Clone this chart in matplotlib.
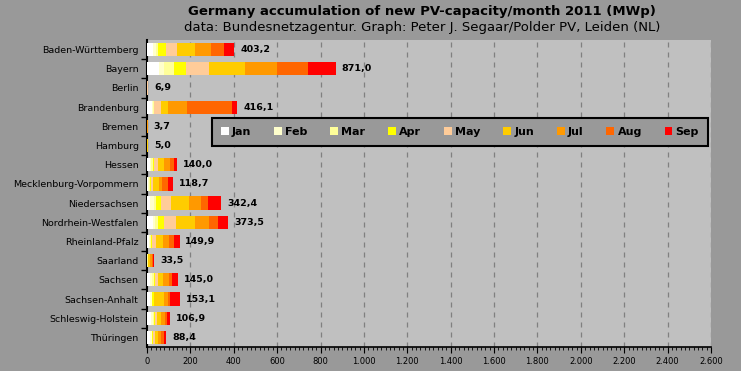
#!/usr/bin/env python3
"""
Germany new PV capacity per month 2011, stacked by Bundesland
"""

import numpy as np
import matplotlib.pyplot as plt
from matplotlib.ticker import MultipleLocator, FuncFormatter, FixedLocator
from matplotlib.patches import Patch

states = ['Baden-Württemberg', 'Bayern', 'Berlin', 'Brandenburg', 'Bremen',
          'Hamburg', 'Hessen', 'Mecklenburg-Vorpommern', 'Niedersachsen',
          'Nordrhein-Westfalen', 'Rheinland-Pfalz', 'Saarland', 'Sachsen',
          'Sachsen-Anhalt', 'Schleswig-Holstein', 'Thüringen']

months = ['Jan', 'Feb', 'Mar', 'Apr', 'May', 'Jun', 'Jul', 'Aug', 'Sep']

# MWp per month
jan = [27, 57, 0.5, 22, 0.3, 0.5, 12.5, 3, 15.5, 26, 10, 1, 16, 15, 20, 16]
feb = [14, 23, 0.3, 5, 0.2, 0.3, 8, 6, 15.5, 12.5, 5, 1, 8, 7, 6, 5]
mar = [12, 43, 0.5, 4, 0.3, 0.4, 5, 5, 12, 14, 4, 1, 7, 3, 5, 4]
apr = [33, 58, 0.6, 2, 0.3, 0.5, 6, 4, 23, 28, 6, 1, 5, 6, 5, 4]
may = [52, 106, 0.8, 32, 0.4, 0.6, 20, 8, 46.5, 51, 17, 2, 15, 3, 10, 8]
jun = [84, 166, 1.2, 30, 0.6, 0.8, 28.5, 28, 79, 88, 32, 9, 21, 43, 19, 16]
jul = [75, 148, 1.0, 88, 0.6, 0.7, 25, 15, 56, 65, 28, 8, 29, 18, 16, 12]
aug = [56, 143, 1.0, 208, 0.6, 0.6, 19, 28, 32.5, 42, 23, 6, 15, 13, 13, 12]
sep = [50.2, 127.5, 1.0, 25.1, 0.6, 0.6, 16, 21.7, 62.4, 47, 24.9, 4.5, 29, 45.1, 12.9, 11.4]

totals = [403.2, 871.0, 6.9, 416.1, 3.7, 5.0, 140.0, 118.7, 342.4, 373.5,
          149.9, 33.5, 145.0, 153.1, 106.9, 88.4]

colors = ['#FFFFFF', '#FFFFCC', '#FFFF99', '#FFFF00', '#FFCC99',
          '#FFCC00', '#FF9900', '#FF6600', '#FF0000']

BG = '#999999'
PLOT_BG = '#C0C0C0'


def fmt_thousands(x, pos):
    return f'{int(x):,}'.replace(',', '.')


fig = plt.figure(figsize=(7.41, 3.71), dpi=100, facecolor=BG)
ax = fig.add_axes([147 / 741, 1 - 347 / 371, 564 / 741, 307 / 371])
ax.set_facecolor(PLOT_BG)

y = np.arange(len(states))
left = np.zeros(len(states))
series = [jan, feb, mar, apr, may, jun, jul, aug, sep]
for vals, col in zip(series, colors):
    vals = np.array(vals)
    ax.barh(y, vals, left=left, height=0.69, color=col, edgecolor='none', zorder=3)
    left += vals

for yi, tot in zip(y, totals):
    ax.text(tot + 27, yi, f'{tot:.1f}'.replace('.', ','), va='center', ha='left',
            fontsize=6.8, fontweight='bold', color='black', zorder=4)

ax.set_xlim(0, 2600)
ax.set_ylim(len(states) - 0.5, -0.5)

ax.xaxis.set_major_locator(MultipleLocator(200))
ax.xaxis.set_minor_locator(MultipleLocator(20))
ax.xaxis.set_major_formatter(FuncFormatter(fmt_thousands))
ax.tick_params(axis='x', which='major', length=4, labelsize=6, pad=3)
ax.tick_params(axis='x', which='minor', length=2)
ax.grid(axis='x', which='major', color='#808080', linestyle=(0, (4, 4)),
        linewidth=0.9, zorder=1)

# category labels centered, ticks at category boundaries
ax.set_yticks(y)
ax.set_yticklabels(states, fontsize=6.8)
ax.tick_params(axis='y', which='major', length=0, pad=6)
ax.yaxis.set_minor_locator(FixedLocator(np.arange(0.5, len(states) - 1, 1.0)))
ax.tick_params(axis='y', which='minor', length=4, width=1)

for side in ['top', 'right']:
    ax.spines[side].set_visible(False)
ax.spines['left'].set_linewidth(1.5)
ax.spines['bottom'].set_linewidth(1.2)

handles = [Patch(facecolor=c, edgecolor='none') for c in colors]
leg = ax.legend(handles, months, loc='upper left', ncol=9,
                bbox_to_anchor=(65 / 564, 1 - 106 / 307, 496 / 564, 28 / 307),
                mode='expand', frameon=True, fancybox=False,
                prop={'weight': 'bold', 'size': 8}, handlelength=0.7,
                handleheight=0.7, handletextpad=0.3, columnspacing=1.0,
                borderaxespad=0, borderpad=0.8)
leg.get_frame().set_facecolor(BG)
leg.get_frame().set_edgecolor('black')
leg.get_frame().set_linewidth(1.5)
leg.get_frame().set_alpha(1)
leg.set_zorder(5)

fig.text(422 / 741, 1 - 12 / 371, 'Germany accumulation of new PV-capacity/month 2011 (MWp)',
         ha='center', va='center', fontsize=9.5, fontweight='bold')
fig.text(422 / 741, 1 - 28 / 371,
         'data: Bundesnetzagentur. Graph: Peter J. Segaar/Polder PV, Leiden (NL)',
         ha='center', va='center', fontsize=9.5)

plt.savefig('out.png', dpi=100, facecolor=BG)
plt.close()
